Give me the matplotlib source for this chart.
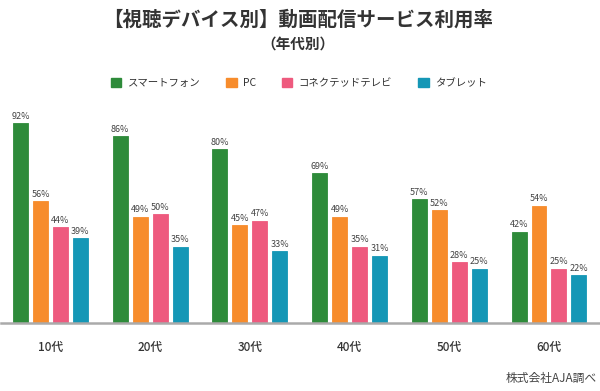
import numpy as np
import matplotlib
matplotlib.use("Agg")
import matplotlib.pyplot as plt
from matplotlib.patches import Patch

plt.rcParams['font.family'] = ['Noto Sans CJK JP', 'DejaVu Sans']

# data
ages = ['10代', '20代', '30代', '40代', '50代', '60代']
devices = ['スマートフォン', 'PC', 'コネクテッドテレビ', 'タブレット']
smartphone = [92, 86, 80, 69, 57, 42]
pc = [56, 49, 45, 49, 52, 54]
ctv = [44, 50, 47, 35, 28, 25]
tablet = [39, 35, 33, 31, 25, 22]
colors = ['#2e8b3a', '#f78c2c', '#ee5a7e', '#1597b6']

series = [smartphone, pc, ctv, tablet]

fig = plt.figure(figsize=(6, 3.91), dpi=100)
ax = fig.add_axes([0.001, 0.174, 0.997, 0.555])

x = np.arange(len(ages))
w = 0.15
step = 0.2
for i, (vals, c) in enumerate(zip(series, colors)):
    pos = x + (i - 1.5) * step
    bars = ax.bar(pos, vals, width=w, color=c, edgecolor=c, linewidth=0.6, zorder=2)
    for b, v in zip(bars, vals):
        ax.text(b.get_x() + b.get_width() / 2, v + 1.2, f'{v}%', ha='center', va='bottom',
                fontsize=6.5, color='#444444')

ax.set_xlim(-0.5, 5.5)
ax.set_ylim(0, 100)
ax.set_yticks([])
ax.set_xticks(x)
ax.set_xticklabels(ages, fontsize=8.5, color='#333333', fontweight='medium')
ax.tick_params(axis='x', length=0, pad=13)
for s in ['top', 'right', 'left']:
    ax.spines[s].set_visible(False)
ax.spines['bottom'].set_color('#aaaaaa')
ax.spines['bottom'].set_linewidth(1.8)
ax.spines['bottom'].set_zorder(3)

fig.text(0.497, 0.948, '【視聴デバイス別】動画配信サービス利用率', ha='center', va='center',
         fontsize=14, fontweight='bold', color='#333333')
fig.text(0.497, 0.888, '（年代別）', ha='center', va='center',
         fontsize=10.5, fontweight='bold', color='#333333')

handles = [Patch(facecolor=c, edgecolor=c) for c in colors]
fig.legend(handles, devices, loc='center', bbox_to_anchor=(0.498, 0.787), ncol=4,
           frameon=False, fontsize=7.5, handlelength=1.0, handleheight=1.0,
           handletextpad=0.6, columnspacing=2.5, labelcolor='#333333')

fig.text(0.995, 0.033, '株式会社AJA調べ', ha='right', va='center', fontsize=8.5, color='#444444')

fig.savefig('out.png', dpi=100)
